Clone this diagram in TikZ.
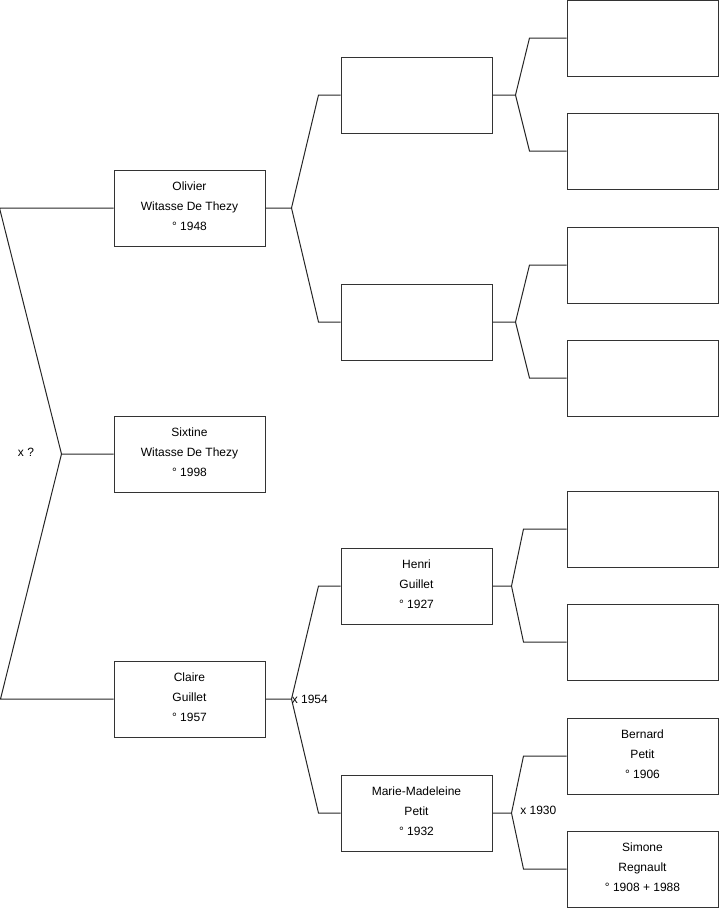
\documentclass[tikz,border=0pt]{standalone}
\usepackage{fontspec}
\setmainfont{Liberation Sans}
\usetikzlibrary{positioning, calc}

\tikzset{
  person/.style={draw=black!80, line width=0.75pt, rectangle, minimum width=113.25pt,
    minimum height=57pt, inner sep=0pt, align=center, font=\fontsize{9}{15}\selectfont},
  link/.style={draw=black!85, line width=0.75pt},
  union/.style={font=\fontsize{9}{11}\selectfont, inner sep=0pt}
}

\begin{document}
\begin{tikzpicture}[x=0.75pt, y=-0.75pt]
			\useasboundingbox (0,0) rectangle (719,908);
			% generation 1
			\node[person] (olivier) at (189.5,208) {Olivier\\Witasse De Thezy\\° 1948\\[-12pt]};
			\node[person] (sixtine) at (189.5,454) {Sixtine\\Witasse De Thezy\\° 1998\\[-12pt]};
			\node[person] (claire) at (189.5,699) {Claire\\Guillet\\° 1957\\[-12pt]};
			
			% generation 2
			\node[person] (fa) at (416.5,95) {};
			\node[person] (ma) at (416.5,322) {};
			\node[person] (henri) at (416.5,586) {Henri\\Guillet\\° 1927\\[-12pt]};
			\node[person] (marie) at (416.5,813) {Marie-Madeleine\\Petit\\° 1932\\[-12pt]};
			
			% generation 3
			\node[person] (ffa) at (642.5,38) {};
			\node[person] (fma) at (642.5,151) {};
			\node[person] (mfa) at (642.5,265) {};
			\node[person] (mma) at (642.5,378) {};
			\node[person] (hfa) at (642.5,529) {};
			\node[person] (hma) at (642.5,642) {};
			\node[person] (bernard) at (642.5,756) {Bernard\\Petit\\° 1906\\[-12pt]};
			\node[person] (simone) at (642.5,869) {Simone\\Regnault\\° 1908 + 1988\\[-12pt]};
			
			% Sixtine to her parents
			\coordinate (jx) at ($(sixtine.west)+(-52,0)$);
			\coordinate (top) at ($(olivier.west)+(-114,0)$);
			\coordinate (bot) at ($(claire.west)+(-113,0)$);
			\draw[link] (sixtine.west) -- (jx) -- (top) -- (olivier.west);
			\draw[link] (jx) -- (bot) -- (claire.west);
			\node[union] (ux) at (26,452) {x ?};
			
			% Olivier
			\coordinate (jo) at ($(olivier.east)+(26,0)$);
			\draw[link] (olivier.east) -- (jo) -- ($(fa.west)+(-22,0)$) -- (fa.west);
			\draw[link] (jo) -- ($(ma.west)+(-22,0)$) -- (ma.west);
			
			% Claire
			\coordinate (jc) at ($(claire.east)+(26,0)$);
			\draw[link] (claire.east) -- (jc) -- ($(henri.west)+(-22,0)$) -- (henri.west);
			\draw[link] (jc) -- ($(marie.west)+(-22,0)$) -- (marie.west);
			\node[union, anchor=west] (u1954) at (jc) {x 1954};
			
			% generation 2 to 3
			\coordinate (jf) at ($(fa.east)+(23,0)$);
			\draw[link] (fa.east) -- (jf) -- ($(ffa.west)+(-37,0)$) -- (ffa.west);
			\draw[link] (jf) -- ($(fma.west)+(-37,0)$) -- (fma.west);
			
			\coordinate (jm) at ($(ma.east)+(23,0)$);
			\draw[link] (ma.east) -- (jm) -- ($(mfa.west)+(-37,0)$) -- (mfa.west);
			\draw[link] (jm) -- ($(mma.west)+(-37,0)$) -- (mma.west);
			
			\coordinate (jh) at ($(henri.east)+(19,0)$);
			\draw[link] (henri.east) -- (jh) -- ($(hfa.west)+(-43,0)$) -- (hfa.west);
			\draw[link] (jh) -- ($(hma.west)+(-43,0)$) -- (hma.west);
			
			\coordinate (jmm) at ($(marie.east)+(19,0)$);
			\draw[link] (marie.east) -- (jmm) -- ($(bernard.west)+(-43,0)$) -- (bernard.west);
			\draw[link] (jmm) -- ($(simone.west)+(-43,0)$) -- (simone.west);
			\node[union, anchor=west] (u1930) at (520,810) {x 1930};
		\end{tikzpicture}
\end{document}
